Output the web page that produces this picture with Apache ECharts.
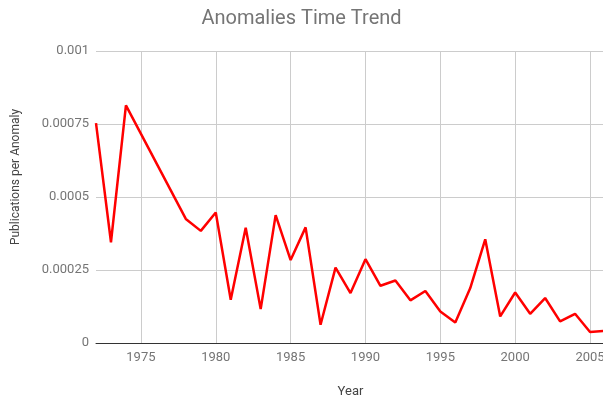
<!DOCTYPE html>
<html>
<head>
<meta charset="utf-8">
<script src="https://cdn.jsdelivr.net/npm/echarts@6/dist/echarts.min.js"></script>
<style>
  html, body { margin: 0; padding: 0; background: #fff; }
  #chart { width: 603px; height: 402px; }
</style>
</head>
<body>
<div id="chart"></div>
<script>
// values (1975-1977 have no point, the line runs straight)
var years = [1972, 1973, 1974, 1978, 1979, 1980, 1981, 1982, 1983, 1984, 1985,
  1986, 1987, 1988, 1989, 1990, 1991, 1992, 1993, 1994, 1995, 1996, 1997,
  1998, 1999, 2000, 2001, 2002, 2003, 2004, 2005, 2006];
var ratio = [0.000753, 0.000345, 0.000814, 0.000425, 0.000384, 0.000447,
  0.000148, 0.000395, 0.000116, 0.000438, 0.000284, 0.000396, 0.0000625,
  0.000258, 0.000171, 0.000287, 0.000196, 0.000214, 0.000146, 0.000178,
  0.000108, 0.0000704, 0.000188, 0.000355, 0.0000909, 0.000173, 0.0001,
  0.000154, 0.0000738, 0.0001, 0.0000376, 0.000042];
var yearTicks = [1975, 1980, 1985, 1990, 1995, 2000, 2005];

var chart = echarts.init(document.getElementById("chart"));
chart.setOption({
  animation: false,
  textStyle: { fontFamily: "Roboto" },
  title: {
    text: "Anomalies Time Trend",
    left: "center",
    top: 4,
    textStyle: { color: "#757575", fontSize: 20, fontWeight: "normal" }
  },
  grid: {
    left: 96,
    top: 51,
    width: 509,
    height: 292,
    outerBoundsMode: "none"
  },
  xAxis: {
    type: "value",
    min: 1972,
    max: 2006,
    name: "Year",
    nameLocation: "middle",
    nameGap: 42,
    nameTextStyle: { color: "#444", fontSize: 13 },
    axisLine: { lineStyle: { color: "#333", width: 1 } },
    axisTick: { show: false, customValues: yearTicks },
    axisLabel: {
      customValues: yearTicks,
      color: "#757575",
      fontSize: 13,
      margin: 8,
      formatter: function (v) { return String(v); }
    },
    splitLine: { show: true, customValues: yearTicks, lineStyle: { color: "#ccc" } }
  },
  yAxis: {
    type: "value",
    min: 0,
    max: 0.001,
    interval: 0.00025,
    name: "Publications per Anomaly",
    nameLocation: "middle",
    nameGap: 74,
    nameTextStyle: { color: "#444", fontSize: 12, padding: [0, 0, 0, 40] },
    axisLine: { show: false },
    axisTick: { show: false },
    axisLabel: { color: "#757575", fontSize: 13, margin: 7 },
    splitLine: { lineStyle: { color: "#ccc" } }
  },
  series: [
    {
      name: "Publications per Anomaly",
      type: "line",
      data: years.map(function (y, i) { return [y, ratio[i]]; }),
      showSymbol: false,
      lineStyle: { color: "#ff0000", width: 2.5 },
      itemStyle: { color: "#ff0000" }
    }
  ]
});
</script>
</body>
</html>
